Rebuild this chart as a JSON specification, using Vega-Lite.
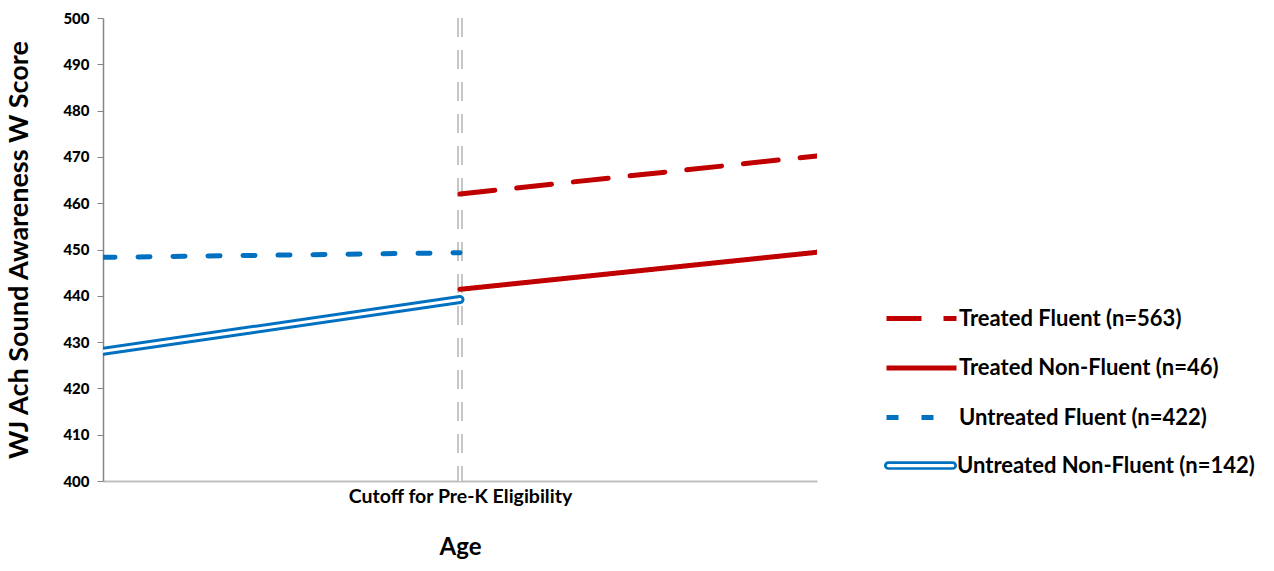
{
  "$schema": "https://vega.github.io/schema/vega-lite/v6.json",
  "width": 714,
  "height": 463,
  "autosize": {"type": "none"},
  "padding": {"left": 103, "top": 18, "right": 457, "bottom": 90},
  "background": "white",
  "config": {
    "view": {"stroke": null},
    "font": "Lato",
    "axis": {"labelFont": "Lato", "titleFont": "Lato", "labelFontWeight": 900, "titleFontWeight": "bold", "labelColor": "black", "titleColor": "black", "grid": false}
  },
  "data": {
    "values": [
      {"age": -1, "score": 448.3, "group": "Untreated Fluent (n=422)"},
      {"age": 0, "score": 449.3, "group": "Untreated Fluent (n=422)"},
      {"age": -1, "score": 428.0, "group": "Untreated Non-Fluent (n=142)"},
      {"age": 0, "score": 439.2, "group": "Untreated Non-Fluent (n=142)"},
      {"age": 0, "score": 462.0, "group": "Treated Fluent (n=563)"},
      {"age": 1, "score": 470.2, "group": "Treated Fluent (n=563)"},
      {"age": 0, "score": 441.4, "group": "Treated Non-Fluent (n=46)"},
      {"age": 1, "score": 449.4, "group": "Treated Non-Fluent (n=46)"}
    ]
  },
  "layer": [
    {
      "mark": {"type": "rule", "stroke": "#c4c4c4", "strokeWidth": 4.5, "strokeDash": [19, 13]},
      "encoding": {"x": {"datum": 0, "type": "quantitative"}}
    },
    {
      "mark": {"type": "rule", "stroke": "white", "strokeWidth": 1.5, "strokeDash": [19, 13]},
      "encoding": {"x": {"datum": 0, "type": "quantitative"}}
    },
    {
      "mark": {"type": "line", "strokeCap": "round", "clip": true, "strokeWidth": 5},
      "encoding": {
        "x": {
          "field": "age", "type": "quantitative",
          "scale": {"domain": [-1, 1], "nice": false, "zero": false},
          "axis": {
            "title": "Age", "titleFontSize": 24, "titlePadding": 30,
            "values": [0], "labelExpr": "'Cutoff for Pre-K Eligibility'",
            "labelFontSize": 19.5, "labelFontWeight": "bold", "labelPadding": 6, "labelLimit": 500, "ticks": false,
            "domainColor": "#c0c0c0", "domainWidth": 2
          }
        },
        "y": {
          "field": "score", "type": "quantitative",
          "scale": {"domain": [400, 500], "nice": false, "zero": false},
          "axis": {
            "title": "WJ Ach Sound Awareness W Score", "titleFontSize": 27, "titlePadding": 29,
            "values": [400, 410, 420, 430, 440, 450, 460, 470, 480, 490, 500],
            "labelFontSize": 15, "labelPadding": 8, "tickSize": 6,
            "domainColor": "#868686", "tickColor": "#868686", "domainWidth": 1.5
          }
        },
        "color": {
          "field": "group", "type": "nominal",
          "scale": {
            "domain": ["Treated Fluent (n=563)", "Treated Non-Fluent (n=46)", "Untreated Fluent (n=422)", "Untreated Non-Fluent (n=142)"],
            "range": ["#C00000", "#C00000", "#0070C0", "#0070C0"]
          },
          "legend": {
            "title": null, "orient": "none", "legendX": 781, "legendY": 263,
            "values": ["Treated Fluent (n=563)", "Treated Non-Fluent (n=46)", "Untreated Fluent (n=422)"],
            "symbolType": "stroke", "symbolSize": 4900, "symbolStrokeWidth": 5,
            "labelFontSize": 22, "labelFontWeight": "bold", "labelColor": "black", "labelOffset": 0,
            "rowPadding": 0.5, "labelLimit": 400
          }
        },
        "strokeDash": {
          "field": "group", "type": "nominal",
          "scale": {
            "domain": ["Treated Fluent (n=563)", "Treated Non-Fluent (n=46)", "Untreated Fluent (n=422)", "Untreated Non-Fluent (n=142)"],
            "range": [[35, 22], [1, 0], [12, 23], [1, 0]]
          },
          "legend": null
        }
      }
    },
    {
      "transform": [{"filter": "datum.group == 'Untreated Non-Fluent (n=142)'"}],
      "mark": {"type": "line", "strokeCap": "round", "clip": true, "stroke": "#0070C0", "strokeWidth": 9},
      "encoding": {
        "x": {"field": "age", "type": "quantitative"},
        "y": {"field": "score", "type": "quantitative"},
        "opacity": {
          "field": "group", "type": "nominal",
          "scale": {"domain": ["Untreated Non-Fluent (n=142)"], "range": [1]},
          "legend": {
            "title": null, "orient": "none", "legendX": 781, "legendY": 411,
            "symbolType": "M-0.92,-0.085H0.92A0.085,0.085,0,0,1,0.92,0.085H-0.92A0.085,0.085,0,0,1,-0.92,-0.085Z",
            "symbolSize": 4900, "symbolStrokeWidth": 2.7,
            "symbolStrokeColor": "#0070C0", "symbolFillColor": "white", "symbolOpacity": 1,
            "labelFontSize": 22, "labelFontWeight": "bold", "labelColor": "black", "labelOffset": 0, "labelLimit": 400
          }
        }
      }
    },
    {
      "transform": [{"filter": "datum.group == 'Untreated Non-Fluent (n=142)'"}],
      "mark": {"type": "line", "strokeCap": "round", "clip": true, "stroke": "white", "strokeWidth": 3},
      "encoding": {
        "x": {"field": "age", "type": "quantitative"},
        "y": {"field": "score", "type": "quantitative"}
      }
    }
  ]
}
